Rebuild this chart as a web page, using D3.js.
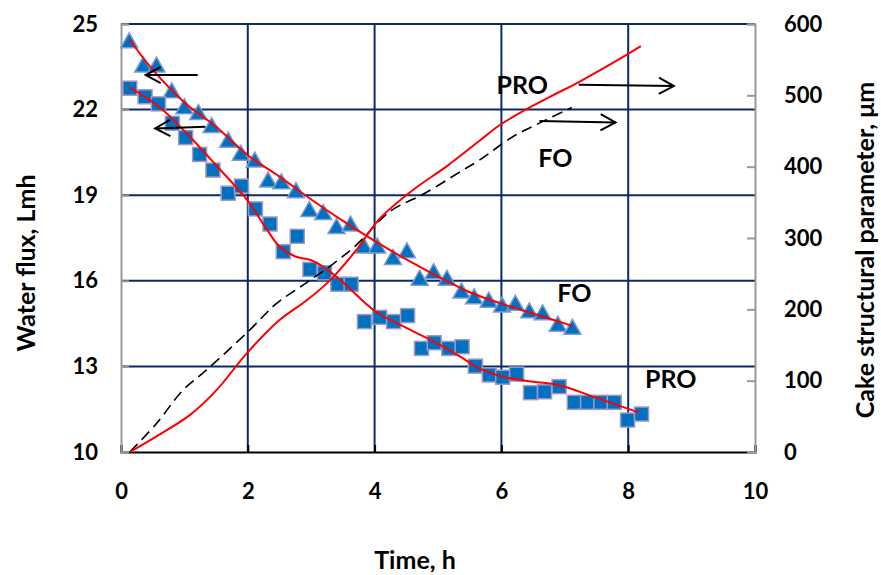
<!DOCTYPE html>
<meta charset="utf-8">
<style>
  body { margin: 0; background: #fff; }
  text { font-family: Lato, 'Liberation Sans', sans-serif; font-weight: bold; fill: #000; }
  .tick-label { font-size: 22px; }
  .axis-title { font-size: 25px; }
  .note { font-size: 25px; }
</style>
<script src="https://cdn.jsdelivr.net/npm/d3@7"></script>
<div id="chart"></div>
<script>
// flux data, FO (triangles) and PRO (squares): [time h, flux Lmh]
var foFlux = [[0.13,24.41],[0.35,23.56],[0.56,23.56],[0.80,22.66],[1.00,22.10],[1.22,21.90],[1.43,21.44],
  [1.69,20.93],[1.89,20.47],[2.11,20.23],[2.32,19.53],[2.53,19.47],[2.76,19.16],[2.97,18.50],[3.19,18.39],
  [3.40,17.90],[3.62,17.99],[3.83,17.22],[4.04,17.22],[4.29,16.82],[4.51,17.05],[4.71,16.09],[4.93,16.32],
  [5.14,16.09],[5.37,15.64],[5.57,15.44],[5.80,15.32],[6.01,15.15],[6.22,15.21],[6.44,14.95],[6.65,14.88],
  [6.89,14.48],[7.12,14.37]];
var proFlux = [[0.14,22.75],[0.38,22.45],[0.59,22.20],[0.81,21.52],[1.02,21.02],[1.24,20.43],[1.45,19.88],
  [1.69,19.07],[1.90,19.32],[2.12,18.52],[2.35,17.99],[2.56,17.02],[2.78,17.56],[2.98,16.40],[3.21,16.28],
  [3.42,15.88],[3.63,15.88],[3.84,14.57],[4.08,14.72],[4.30,14.57],[4.52,14.78],[4.74,13.63],[4.94,13.83],
  [5.17,13.63],[5.38,13.69],[5.59,13.01],[5.81,12.70],[6.02,12.62],[6.24,12.73],[6.46,12.08],[6.68,12.11],
  [6.91,12.29],[7.15,11.74],[7.36,11.74],[7.57,11.74],[7.78,11.74],[7.99,11.12],[8.21,11.33]];

// model fits for the flux (red lines)
var foFluxFit = [[0.14,24.44],[0.5,23.4],[1.0,22.25],[1.5,21.4],[2.0,20.4],[2.5,19.65],[3.0,18.85],
  [3.5,18.1],[4.0,17.4],[4.5,16.75],[5.0,16.15],[5.5,15.6],[6.0,15.2],[6.5,14.85],[7.12,14.42]];
var proFluxFit = [[0.14,22.77],[0.6,22.1],[1.0,21.25],[1.5,20.05],[2.0,18.8],[2.3,17.8],[2.5,17.2],
  [2.75,16.85],[3.0,16.72],[3.2,16.48],[3.5,15.95],[4.0,14.95],[4.5,14.35],[5.0,13.8],[5.35,13.34],
  [5.65,12.93],[6.0,12.65],[6.5,12.46],[6.9,12.35],[7.5,11.9],[8.17,11.38]];

// cake structural parameter, um (right axis)
var proCake = [[0.14,0],[0.56,22],[1.09,52],[1.51,87],[1.98,138],[2.5,185],[2.92,212],[3.3,241],
  [3.71,283],[4.08,327],[4.6,367],[5.13,400],[5.65,436],[5.97,458],[6.34,478],[6.81,500],[7.23,519],
  [7.75,545],[8.2,569]];
var foCake = [[0.14,0],[0.56,40],[0.98,87],[1.35,115],[2.03,171],[2.45,208],[2.87,234],[3.29,260],
  [3.71,290],[4.24,337],[4.8,363],[5.39,395],[5.65,409],[6.18,442],[6.6,461],[7.11,483]];

var xTicks = [0, 2, 4, 6, 8, 10];
var yLeftTicks = [10, 13, 16, 19, 22, 25];
var yRightTicks = [0, 100, 200, 300, 400, 500, 600];

// arrows: which axis, from [t, value] to [t, value]
var arrows = [
  {axis: "left",  from: [1.21, 23.21], to: [0.39, 23.21]},
  {axis: "left",  from: [1.33, 21.40], to: [0.54, 21.34]},
  {axis: "right", from: [7.22, 515], to: [8.72, 513]},
  {axis: "right", from: [6.60, 464], to: [7.80, 462]}
];
// curve labels
var labels = [
  {text: "PRO", axis: "right", t: 6.33, v: 516},
  {text: "FO",  axis: "right", t: 6.85, v: 413},
  {text: "FO",  axis: "left",  t: 7.15, v: 15.6},
  {text: "PRO", axis: "left",  t: 8.67, v: 12.6}
];

var margin = {top: 24, right: 126, bottom: 123, left: 121},
    width = 881 - margin.left - margin.right,
    height = 575 - margin.top - margin.bottom;

var svg = d3.select("#chart").append("svg")
    .attr("width", 881).attr("height", 575)
  .append("g")
    .attr("transform", "translate(" + margin.left + "," + margin.top + ")");

var x = d3.scaleLinear().domain([0, 10]).range([0, width]);
var yL = d3.scaleLinear().domain([10, 25]).range([height, 0]);
var yR = d3.scaleLinear().domain([0, 600]).range([height, 0]);

var navy = "#0b2a6b";

// grid
svg.append("g").selectAll("line.h").data(yLeftTicks.slice(1)).enter().append("line")
  .attr("x1", 0).attr("x2", width)
  .attr("y1", function(d) { return yL(d); }).attr("y2", function(d) { return yL(d); })
  .attr("stroke", navy).attr("stroke-width", 2);
svg.append("g").selectAll("line.v").data(xTicks.slice(1, -1)).enter().append("line")
  .attr("x1", function(d) { return x(d); }).attr("x2", function(d) { return x(d); })
  .attr("y1", 0).attr("y2", height)
  .attr("stroke", navy).attr("stroke-width", 2);

// axes
var gx = svg.append("g").attr("transform", "translate(0," + height + ")")
  .call(d3.axisBottom(x).tickValues(xTicks).tickSize(-7).tickPadding(31).tickFormat(d3.format("d")));
gx.select(".domain").attr("stroke", "#000").attr("stroke-width", 2);
gx.selectAll(".tick line").attr("stroke", "#000").attr("stroke-width", 2);

var gyl = svg.append("g")
  .call(d3.axisLeft(yL).tickValues(yLeftTicks).tickSize(-8).tickPadding(23));
gyl.select(".domain").attr("stroke", "#999").attr("stroke-width", 2);
gyl.selectAll(".tick line").attr("stroke", "#999").attr("stroke-width", 2);

var gyr = svg.append("g").attr("transform", "translate(" + width + ",0)")
  .call(d3.axisRight(yR).tickValues(yRightTicks).tickSize(-8).tickPadding(29));
gyr.select(".domain").attr("stroke", "#999").attr("stroke-width", 2);
gyr.selectAll(".tick line").attr("stroke", "#999").attr("stroke-width", 2);

svg.selectAll(".tick text").attr("class", "tick-label").attr("font-family", null).attr("font-size", null);

// axis titles
svg.append("text").attr("class", "axis-title")
  .attr("transform", "translate(-86," + (height / 2 + 25) + ")rotate(-90)")
  .attr("text-anchor", "middle")
  .text("Water flux, Lmh");
svg.append("text").attr("class", "axis-title")
  .attr("transform", "translate(" + (width + 119) + "," + (height / 2 + 12) + ")rotate(-90)")
  .attr("text-anchor", "middle")
  .text("Cake structural parameter, \u03bcm");
svg.append("text").attr("class", "axis-title")
  .attr("x", width / 2 - 23).attr("y", height + 117)
  .attr("text-anchor", "middle")
  .text("Time, h");

// markers
svg.append("g").selectAll("path").data(foFlux).enter().append("path")
  .attr("d", "M0,-8L8.5,7L-8.5,7Z")
  .attr("transform", function(d) { return "translate(" + x(d[0]) + "," + yL(d[1]) + ")"; })
  .attr("fill", "#0070c0").attr("stroke", "#7d9bd0").attr("stroke-width", 1.5);
svg.append("g").selectAll("rect").data(proFlux).enter().append("rect")
  .attr("x", function(d) { return x(d[0]) - 7; })
  .attr("y", function(d) { return yL(d[1]) - 7; })
  .attr("width", 14).attr("height", 14)
  .attr("fill", "#0070c0").attr("stroke", "#a397c4").attr("stroke-width", 1.5);

// curves
var lineL = d3.line().x(function(d) { return x(d[0]); }).y(function(d) { return yL(d[1]); })
  .curve(d3.curveCatmullRom);
var lineR = d3.line().x(function(d) { return x(d[0]); }).y(function(d) { return yR(d[1]); })
  .curve(d3.curveCatmullRom);

svg.append("path").datum(foCake).attr("d", lineR)
  .attr("fill", "none").attr("stroke", "#000").attr("stroke-width", 1.6).attr("stroke-dasharray", "11,6");
svg.append("path").datum(proCake).attr("d", lineR)
  .attr("fill", "none").attr("stroke", "red").attr("stroke-width", 2);
svg.append("path").datum(foFluxFit).attr("d", lineL)
  .attr("fill", "none").attr("stroke", "red").attr("stroke-width", 2);
svg.append("path").datum(proFluxFit).attr("d", lineL)
  .attr("fill", "none").attr("stroke", "red").attr("stroke-width", 2);

// arrows
arrows.forEach(function(a) {
  var y = a.axis == "left" ? yL : yR;
  var x1 = x(a.from[0]), y1 = y(a.from[1]), x2 = x(a.to[0]), y2 = y(a.to[1]);
  var ang = Math.atan2(y2 - y1, x2 - x1), len = 17, spread = 0.5;
  var g = svg.append("g").attr("stroke", "#000").attr("stroke-width", 2).attr("fill", "none");
  g.append("line").attr("x1", x1).attr("y1", y1).attr("x2", x2).attr("y2", y2);
  g.append("path").attr("d",
    "M" + (x2 - len * Math.cos(ang - spread)) + "," + (y2 - len * Math.sin(ang - spread)) +
    "L" + x2 + "," + y2 +
    "L" + (x2 - len * Math.cos(ang + spread)) + "," + (y2 - len * Math.sin(ang + spread)));
});

// labels
svg.append("g").selectAll("text").data(labels).enter().append("text")
  .attr("class", "note")
  .attr("x", function(d) { return x(d.t); })
  .attr("y", function(d) { return d.axis == "left" ? yL(d.v) : yR(d.v); })
  .attr("text-anchor", "middle").attr("dominant-baseline", "central")
  .text(function(d) { return d.text; });
</script>
